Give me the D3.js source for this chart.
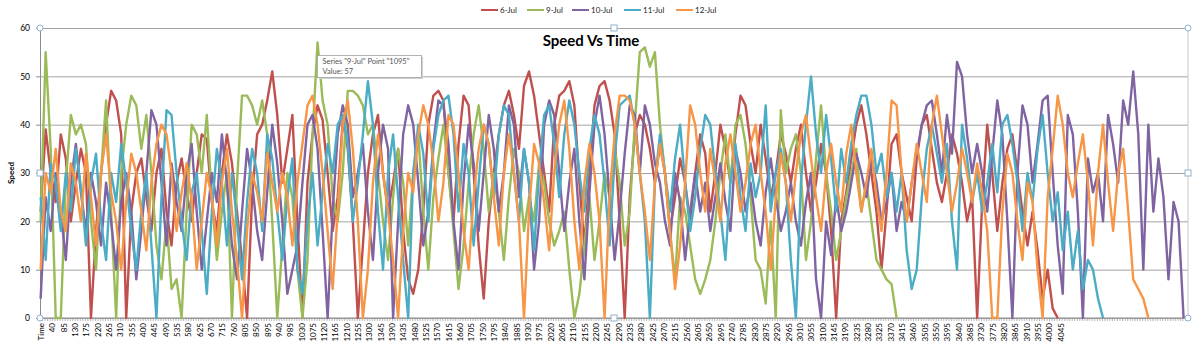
<!DOCTYPE html>
<html>
<head>
<meta charset="utf-8">
<script src="https://cdn.jsdelivr.net/npm/d3@7"></script>
<style>
  html, body { margin: 0; padding: 0; background: #fff; }
  svg { display: block; font-family: Lato, "Open Sans", sans-serif; }
</style>
</head>
<body>
<svg id="chart"></svg>
<script>
// category axis: header row "Time", then the time column (s), then empty rows
const timeSeconds = d3.range(0, 4081, 5);
const categories = ["Time", ...timeSeconds];
const categoryCount = 912;
const sampleEvery = 4; // one reading kept for every 4 rows

const seriesNames = ["6-Jul", "9-Jul", "10-Jul", "11-Jul", "12-Jul"];
const seriesColors = ["#C0504D", "#9BBB59", "#8064A2", "#4BACC6", "#F79646"];

const jul6 = [
  22, 39, 30, 24, 38, 33, 20, 28, 35, 30,
  0, 18, 30, 40, 47, 45, 38, 0, 22, 30,
  33, 25, 18, 30, 35, 22, 15, 28, 33, 26,
  20, 30, 38, 37, 24, 18, 30, 38, 32, 22,
  12, 0, 25, 38, 40, 45, 51, 42, 28, 35,
  42, 20, 0, 28, 38, 44, 41, 30, 18, 25,
  41, 35, 20, 0, 15, 30, 38, 42, 30, 22,
  28, 35, 18, 8, 5, 10, 22, 40, 46, 47,
  45, 30, 20, 36, 46, 44, 30, 15, 4, 20,
  30, 38, 44, 47, 42, 35, 48, 51, 46, 38,
  30, 22, 40, 46, 47, 49, 44, 28, 15, 30,
  44, 48, 49, 45, 38, 20, 0, 25, 38, 42,
  40, 35, 28, 36, 30, 18, 25, 33, 28, 20,
  30, 38, 34, 22, 30, 40, 35, 28, 38, 46,
  44, 36, 30, 40, 33, 25, 30, 38, 34, 28,
  35, 40, 30, 22, 28, 36, 30, 18, 0, 20,
  26, 33, 40, 44, 38, 30, 22, 10, 22, 36,
  38, 30, 25, 20, 33, 40, 42, 35, 28, 24,
  30, 38, 34, 28, 20, 25, 0, 24, 40, 30,
  18, 28, 35, 38, 30, 22, 15, 22, 14, 4,
  10, 2, 0
];

const jul9 = [
  20, 55, 35, 0, 0, 28, 42, 38, 40, 36,
  20, 10, 30, 45, 22, 0, 30, 40, 46, 44,
  35, 42, 30, 15, 8, 20, 6, 8, 0, 22,
  40, 38, 30, 42, 25, 12, 22, 30, 0, 28,
  46, 46, 44, 40, 45, 38, 20, 0, 15, 30,
  25, 10, 0, 12, 38, 57, 45, 40, 25, 20,
  30, 47, 47, 46, 44, 38, 40, 30, 20, 12,
  25, 35, 28, 15, 30, 38, 22, 10, 25, 33,
  40, 30, 18, 6, 15, 28, 38, 44, 35, 22,
  30, 22, 12, 25, 35, 30, 18, 25, 20, 32,
  28, 20, 15, 18, 22, 10, 0, 5, 15, 25,
  12, 20, 30, 25, 35, 28, 15, 22, 40, 55,
  56, 52, 55, 40, 30, 18, 8, 25, 22, 15,
  8, 5, 8, 12, 20, 30, 38, 28, 40, 42,
  36, 25, 12, 10, 3, 20, 0, 43, 30, 35,
  38, 30, 12, 20, 33, 44, 30, 22, 12, 18,
  25, 30, 35, 22, 28, 20, 12, 10, 8, 7,
  0
];

const jul10 = [
  4, 25, 18, 30, 22, 12, 28, 36, 26, 18,
  30, 24, 15, 28, 20, 10, 24, 30, 22, 8,
  18, 30, 43, 40, 28, 15, 32, 24, 18, 30,
  36, 22, 10, 20, 30, 24, 38, 28, 15, 8,
  22, 35, 28, 18, 12, 26, 40, 32, 20, 5,
  10, 15, 28, 40, 42, 35, 18, 0, 22, 38,
  44, 40, 25, 30, 36, 22, 12, 30, 40, 35,
  0, 20, 38, 44, 40, 28, 15, 22, 36, 45,
  44, 36, 20, 10, 28, 40, 32, 18, 30, 42,
  35, 22, 30, 44, 40, 25, 35, 28, 10, 20,
  40, 45, 42, 30, 18, 28, 35, 20, 8, 26,
  40, 46, 38, 25, 12, 22, 34, 44, 42, 30,
  44, 40, 32, 28, 20, 15, 30, 24, 12, 22,
  30, 22, 28, 18, 25, 32, 24, 18, 35, 30,
  22, 28, 20, 15, 26, 33, 25, 18, 22, 28,
  20, 15, 24, 30, 8, 0, 20, 13, 25, 18,
  22, 28, 34, 30, 25, 33, 28, 20, 24, 30,
  18, 24, 20, 28, 34, 40, 44, 45, 38, 30,
  42, 34, 53, 50, 38, 30, 36, 30, 22, 34,
  45, 38, 20, 0, 30, 44, 40, 28, 36, 45,
  46, 30, 15, 5, 42, 38, 22, 0, 33, 26,
  30, 20, 42, 36, 28, 45, 40, 51, 38, 10,
  40, 22, 33, 25, 8, 24, 20, 0
];

const jul11 = [
  25, 12, 32, 28, 18, 30, 22, 35, 27, 15,
  28, 34, 20, 12, 30, 24, 36, 28, 18, 10,
  22, 30, 15, 0, 25, 43, 42, 30, 20, 12,
  26, 30, 18, 5, 22, 35, 28, 15, 30, 20,
  8, 24, 35, 30, 18, 38, 33, 22, 12, 25,
  33, 10, 5, 20, 30, 15, 26, 36, 30, 40,
  42, 36, 20, 28, 38, 49, 40, 22, 10, 30,
  38, 25, 12, 0, 30, 40, 34, 20, 35, 42,
  45, 46, 38, 22, 36, 30, 15, 28, 40, 36,
  25, 38, 44, 42, 30, 20, 35, 28, 14, 30,
  42, 44, 36, 25, 38, 45, 40, 30, 22, 35,
  42, 38, 28, 15, 33, 44, 45, 46, 40, 30,
  20, 0, 28, 38, 30, 22, 33, 40, 28, 18,
  25, 35, 42, 40, 30, 22, 12, 28, 36, 25,
  18, 32, 25, 30, 44, 22, 30, 35, 28, 12,
  0, 28, 40, 50, 38, 30, 42, 33, 22, 35,
  28, 36, 42, 46, 46, 40, 30, 34, 25, 30,
  22, 30, 14, 6, 10, 25, 35, 40, 34, 28,
  36, 20, 10, 40, 33, 24, 30, 22, 28, 36,
  26, 40, 42, 36, 28, 18, 30, 24, 35, 42,
  30, 20, 26, 14, 22, 10, 18, 6, 12, 10,
  4, 0
];

const jul12 = [
  10, 30, 26, 35, 22, 18, 32, 28, 20, 34,
  25, 15, 30, 38, 26, 20, 10, 24, 34, 30,
  22, 14, 28, 36, 40, 38, 30, 18, 26, 32,
  24, 10, 20, 30, 25, 15, 28, 35, 22, 12,
  0, 18, 30, 26, 20, 34, 28, 22, 30, 25,
  15, 28, 36, 44, 46, 40, 30, 18, 6, 22,
  40, 45, 35, 20, 0, 10, 28, 38, 30, 22,
  12, 0, 18, 30, 26, 38, 44, 40, 32, 20,
  28, 42, 40, 30, 18, 10, 25, 35, 40, 36,
  25, 15, 30, 38, 30, 20, 0, 22, 36, 32,
  24, 14, 30, 40, 45, 35, 20, 10, 28, 36,
  30, 20, 0, 25, 38, 46, 46, 45, 40, 30,
  22, 12, 28, 36, 30, 18, 6, 15, 28, 44,
  40, 30, 22, 35, 28, 20, 32, 38, 30, 22,
  28, 36, 40, 30, 22, 10, 25, 34, 28, 20,
  30, 38, 42, 33, 25, 18, 30, 36, 28, 22,
  34, 40, 30, 22, 28, 35, 25, 18, 30, 45,
  44, 30, 20, 28, 36, 30, 24, 40, 46, 38,
  30, 22, 28, 35, 30, 24, 32, 26, 18, 0,
  0, 22, 34, 30, 20, 12, 28, 24, 10, 0,
  25, 35, 46, 40, 30, 25, 32, 38, 28, 15,
  30, 40, 28, 18, 30, 35, 22, 8, 6, 4,
  0
];

const seriesValues = [jul6, jul9, jul10, jul11, jul12];
const yTicks = [0, 10, 20, 30, 40, 50, 60];

// the hovered point shown in the Excel tooltip
const tipSeries = 1;
const tipPoint = 55;

const width = 1200;
const height = 351;
const margin = { top: 28, right: 12, bottom: 33, left: 40 };

const svg = d3.select("#chart")
  .attr("width", width)
  .attr("height", height)
  .attr("viewBox", `0 0 ${width} ${height}`);

const x = d3.scaleBand()
  .domain(d3.range(categoryCount))
  .range([margin.left, width - margin.right]);
const cx = (i) => x(i) + x.bandwidth() / 2;

const y = d3.scaleLinear()
  .domain([0, 60])
  .range([height - margin.bottom, margin.top]);

// ── Gridlines ──
svg.append("g")
  .attr("transform", `translate(${margin.left},0)`)
  .call(d3.axisLeft(y).tickValues(yTicks).tickSize(-(width - margin.left - margin.right)).tickFormat(""))
  .call(g => g.select(".domain").remove())
  .call(g => g.selectAll(".tick line").attr("stroke", "#a3a3a3").attr("stroke-width", 1));

// right edge of the plot area
svg.append("line")
  .attr("x1", width - margin.right).attr("x2", width - margin.right)
  .attr("y1", margin.top).attr("y2", height - margin.bottom)
  .attr("stroke", "#c8c8c8");

// ── Y axis ──
svg.append("g")
  .attr("transform", `translate(${margin.left},0)`)
  .call(d3.axisLeft(y).tickValues(yTicks).tickSize(4).tickPadding(6))
  .call(g => g.select(".domain").attr("stroke", "#8c8c8c"))
  .call(g => g.selectAll(".tick line").attr("stroke", "#8c8c8c"))
  .call(g => g.selectAll("text").attr("font-size", 8.5).attr("fill", "#000").attr("font-family", "Lato, sans-serif"));

svg.append("text")
  .attr("transform", `translate(14,${y(30)}) rotate(-90)`)
  .attr("text-anchor", "middle")
  .attr("font-size", 8)
  .attr("font-weight", "bold")
  .text("Speed");

// ── X axis ──
const xAxis = svg.append("g")
  .attr("transform", `translate(0,${height - margin.bottom})`);

xAxis.append("line")
  .attr("x1", margin.left).attr("x2", width - margin.right)
  .attr("stroke", "#8c8c8c");

xAxis.selectAll(".tick-mark")
  .data(d3.range(0, categoryCount + 1, 2))
  .join("line")
  .attr("class", "tick-mark")
  .attr("x1", (i) => margin.left + i * x.bandwidth())
  .attr("x2", (i) => margin.left + i * x.bandwidth())
  .attr("y2", 3)
  .attr("stroke", "#9a9a9a")
  .attr("stroke-width", 0.7);

xAxis.selectAll(".cat-label")
  .data(d3.range(0, categories.length, 9))
  .join("text")
  .attr("class", "cat-label")
  .attr("transform", (i) => `translate(${cx(i) + 0.5},5) rotate(-90)`)
  .attr("text-anchor", "end")
  .attr("dy", "0.35em")
  .attr("font-size", 8)
  .text((i) => categories[i]);

// ── Lines ──
const line = d3.line()
  .x((d, k) => cx(k * sampleEvery))
  .y((d) => y(d));

svg.append("g")
  .selectAll("path")
  .data(seriesValues)
  .join("path")
  .attr("d", (d) => line(d))
  .attr("fill", "none")
  .attr("stroke", (d, i) => seriesColors[i])
  .attr("stroke-width", 2.4)
  .attr("stroke-linejoin", "round");

// ── Title ──
svg.append("text")
  .attr("x", 591)
  .attr("y", 46)
  .attr("text-anchor", "middle")
  .attr("font-size", 15)
  .attr("font-weight", "bold")
  .text("Speed Vs Time");

// ── Legend ──
const legendX = [481, 527, 572, 624, 676];
const legend = svg.append("g").attr("transform", "translate(0,10)");
seriesNames.forEach((name, i) => {
  const item = legend.append("g").attr("transform", `translate(${legendX[i]},0)`);
  item.append("line").attr("x2", 17).attr("stroke", seriesColors[i]).attr("stroke-width", 2);
  item.append("text")
    .attr("x", 19).attr("dy", "0.35em")
    .attr("font-size", 8).attr("fill", "#222")
    .text(name);
});

// ── Selection handles of the plot area ──
const plotLeft = margin.left, plotRight = width - margin.right;
const plotTop = margin.top, plotBottom = height - margin.bottom;
const midX = (plotLeft + plotRight) / 2, midY = (plotTop + plotBottom) / 2;
const handles = svg.append("g").attr("fill", "#fff").attr("stroke", "#8fb3d0").attr("stroke-width", 1);
[[plotLeft, plotTop], [plotRight, plotTop], [plotLeft, plotBottom], [plotRight, plotBottom]].forEach(([hx, hy]) => {
  handles.append("circle").attr("cx", hx).attr("cy", hy).attr("r", 3);
});
[[midX, plotTop], [midX, plotBottom], [plotLeft, midY], [plotRight, midY]].forEach(([hx, hy]) => {
  handles.append("rect").attr("x", hx - 3).attr("y", hy - 3).attr("width", 6).attr("height", 6);
});

// ── Tooltip ──
const tipX = cx(tipPoint * sampleEvery);
const tipY = y(seriesValues[tipSeries][tipPoint]);
const tip = svg.append("g").attr("transform", `translate(${tipX},${tipY + 13})`);
tip.append("rect")
  .attr("x", 1.5).attr("y", 1.5).attr("width", 104).attr("height", 22)
  .attr("fill", "#d0d0d0");
tip.append("rect")
  .attr("width", 104).attr("height", 22)
  .attr("fill", "#fff").attr("stroke", "#a0a0a0").attr("stroke-width", 0.8);
tip.append("text")
  .attr("x", 5).attr("y", 8.5)
  .attr("font-size", 7.5).attr("fill", "#555")
  .text(`Series "${seriesNames[tipSeries]}" Point "${categories[tipPoint * sampleEvery]}"`);
tip.append("text")
  .attr("x", 5).attr("y", 18.5)
  .attr("font-size", 7.5).attr("fill", "#555")
  .text(`Value: ${seriesValues[tipSeries][tipPoint]}`);
</script>
</body>
</html>
